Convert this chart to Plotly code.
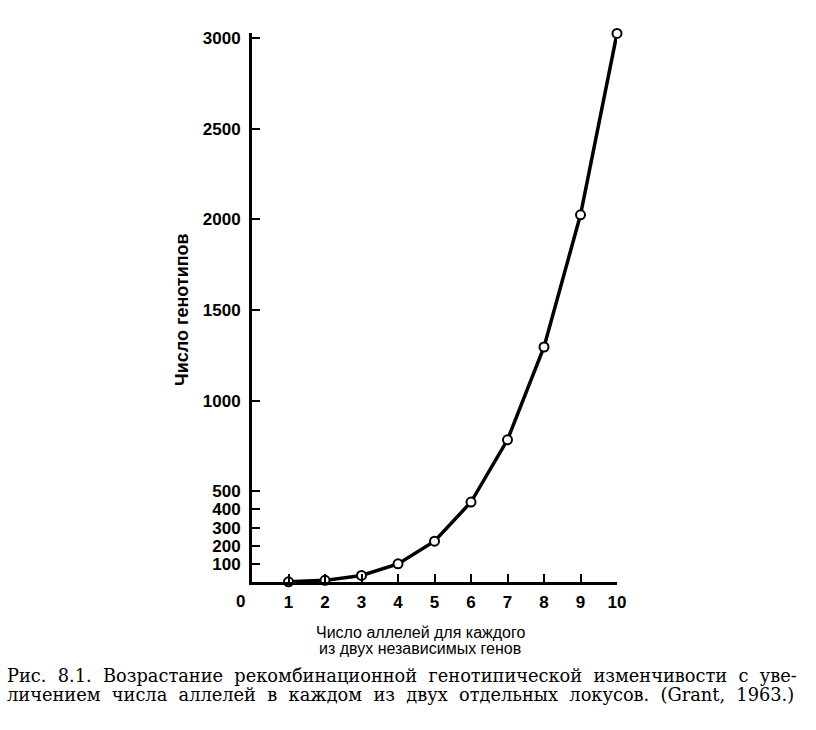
import plotly.graph_objects as go

alleles = [1, 2, 3, 4, 5, 6, 7, 8, 9, 10]
genotypes = [1, 9, 36, 100, 225, 441, 784, 1296, 2025, 3025]
x_ticks = [1, 2, 3, 4, 5, 6, 7, 8, 9, 10]
y_ticks = [100, 200, 300, 400, 500, 1000, 1500, 2000, 2500, 3000]

y_title = "Число генотипов"
x_title_1 = "Число аллелей для каждого"
x_title_2 = "из двух независимых генов"
caption1 = "Рис. 8.1. Возрастание рекомбинационной генотипической изменчивости с уве-"
caption2 = "личением числа аллелей в каждом из двух отдельных локусов. (Grant, 1963.)"

W, H = 816, 730
L, R, T, B = 252, 199, 33, 148
PW, PH = W - L - R, H - T - B
y_top = 3000 * PH / (582 - 38)


def px(x):
    return (x - L) / PW


def py(y):
    return 1 - (y - T) / PH


def spread(text, extra):
    # widen word spacing to mimic the justified book line
    return text.replace(" ", " " + "&nbsp;" * extra)


tick_font = dict(family="Liberation Sans, Arial, sans-serif",
                 size=17, color="black", weight="bold")

fig = go.Figure()
fig.add_trace(go.Scatter(
    x=alleles, y=genotypes, mode="lines+markers",
    line=dict(color="black", width=3.5),
    marker=dict(symbol="circle", size=9, color="white",
                line=dict(color="black", width=2)),
    cliponaxis=False, showlegend=False,
))

fig.update_layout(
    width=W, height=H, autosize=False,
    margin=dict(l=L, r=R, t=T, b=B),
    paper_bgcolor="white", plot_bgcolor="white",
    font=dict(family="Liberation Sans, Arial, sans-serif", color="black"),
    xaxis=dict(range=[0, 10], tickvals=x_ticks, ticktext=[str(v) for v in x_ticks],
               ticks="inside", ticklen=8, tickwidth=2, tickcolor="black",
               showline=True, linecolor="black", linewidth=3,
               showgrid=False, zeroline=False, tickfont=tick_font,
               ticklabelstandoff=3),
    yaxis=dict(range=[0, y_top], tickvals=y_ticks, ticktext=[str(v) for v in y_ticks],
               ticks="inside", ticklen=8, tickwidth=2, tickcolor="black",
               showline=True, linecolor="black", linewidth=3,
               showgrid=False, zeroline=False, tickfont=tick_font,
               ticklabelstandoff=5),
)

fig.add_annotation(x=px(240), y=py(601), xref="paper", yref="paper", text="0",
                   showarrow=False, xanchor="center", yanchor="middle", font=tick_font)
fig.add_annotation(x=px(182), y=py(310), xref="paper", yref="paper", text=y_title,
                   showarrow=False, textangle=-90, xanchor="center", yanchor="middle",
                   font=dict(family="Liberation Sans, Arial, sans-serif", size=18,
                             color="black", weight="bold"))
title_font = dict(family="Liberation Sans, Arial, sans-serif", size=16, color="black")
fig.add_annotation(x=px(420), y=py(632), xref="paper", yref="paper", text=x_title_1,
                   showarrow=False, xanchor="center", yanchor="middle", font=title_font)
fig.add_annotation(x=px(420), y=py(648), xref="paper", yref="paper", text=x_title_2,
                   showarrow=False, xanchor="center", yanchor="middle", font=title_font)

cap_font = dict(family="DejaVu Serif, Liberation Serif, serif", size=17.8, color="black")
for txt, yy, extra in [(caption1, 675, 1), (caption2, 694, 1)]:
    fig.add_annotation(x=px(5), y=py(yy), xref="paper", yref="paper",
                       xanchor="left", yanchor="middle", text=spread(txt, extra),
                       showarrow=False, font=cap_font)

fig.write_html("out.html")
